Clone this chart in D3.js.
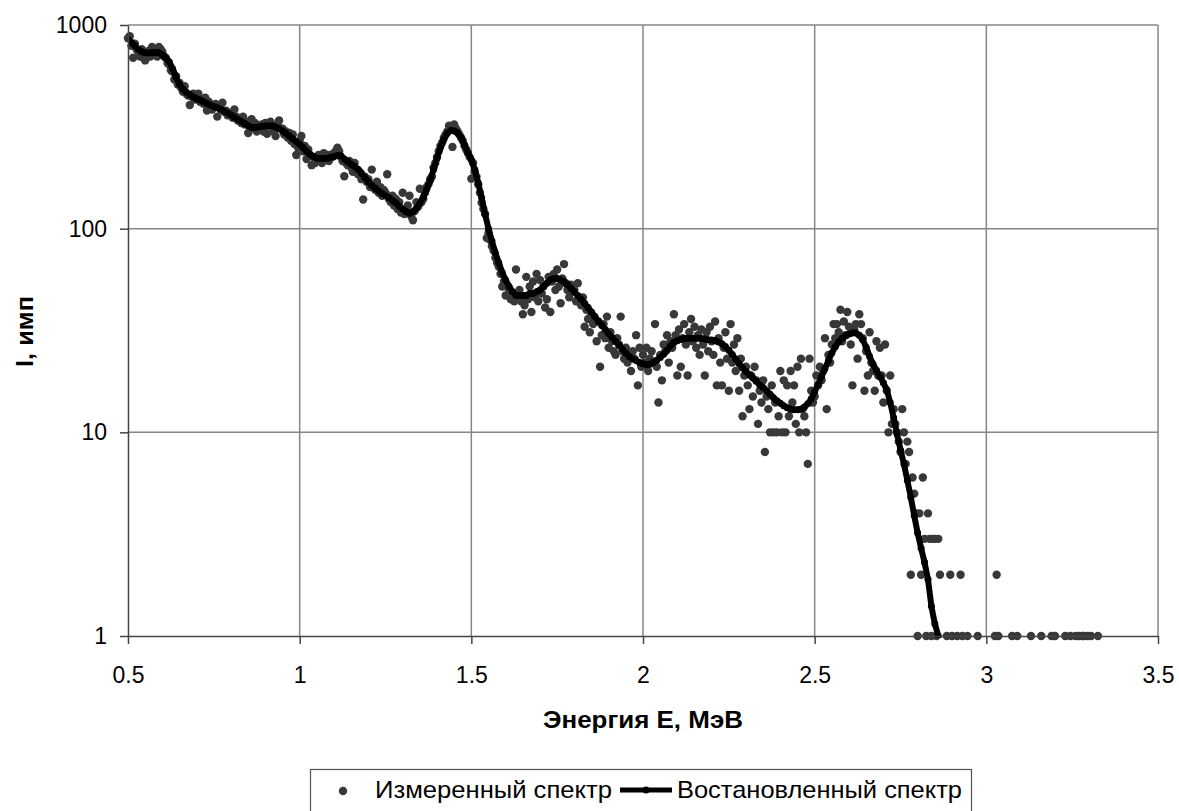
<!DOCTYPE html>
<html>
<head>
<meta charset="utf-8">
<script src="https://cdn.jsdelivr.net/npm/d3@7"></script>
<style>
    body { margin: 0; background: #fff; }
    text { font-family: Arial, "Liberation Sans", sans-serif; }
</style>
</head>
<body>
<svg id="chart"></svg>
<script>
// measured spectrum: counts per channel, channel energy = start + i * step (MeV)
const measuredStart = 0.5;
const measuredStep = 0.005;
const measuredCounts = [
    860, 880, 790, 690, 810, 760, 740, 700, 760, 690,   // 0.50
    670, 720, 745, 700, 780, 760, 740, 700, 780, 760,   // 0.55
    740, 700, 690, 650, 640, 600, 590, 540, 560, 510,   // 0.60
    520, 490, 470, 500, 460, 450, 405, 445, 460, 430,   // 0.65
    440, 460, 420, 430, 410, 440, 380, 420, 400, 385,   // 0.70
    400, 410, 355, 395, 385, 415, 375, 380, 360, 370,   // 0.75
    370, 350, 385, 355, 340, 350, 330, 355, 325, 335,   // 0.80
    295, 320, 345, 310, 330, 300, 320, 310, 325, 300,   // 0.85
    330, 292, 320, 335, 315, 300, 285, 325, 340, 310,   // 0.90
    310, 290, 300, 280, 295, 270, 290, 260, 230, 250,   // 0.95
    270, 285, 240, 255, 220, 245, 230, 205, 225, 210,   // 1.00
    215, 230, 225, 210, 235, 220, 230, 215, 230, 225,   // 1.05
    235, 240, 250, 240, 225, 215, 181, 210, 205, 215,   // 1.10
    200, 190, 210, 195, 185, 190, 175, 139, 180, 170,   // 1.15
    175, 160, 195, 165, 155, 170, 150, 160, 145, 155,   // 1.20
    150, 185, 140, 135, 145, 130, 140, 125, 135, 120,   // 1.25
    150, 118, 125, 130, 145, 115, 110, 122, 135, 128,   // 1.30
    157, 135, 140, 150, 160, 165, 175, 180, 200, 210,   // 1.35
    225, 240, 255, 265, 280, 290, 300, 320, 315, 252,   // 1.40
    325, 310, 300, 290, 280, 270, 255, 245, 235, 225,   // 1.45
    176, 210, 190, 180, 165, 150, 134, 125, 118, 90,    // 1.50
    95, 88, 82, 78, 72, 68, 65, 60, 52, 55,             // 1.55
    47, 52, 50, 45, 48, 44, 63, 46, 50, 44,             // 1.60
    38, 42, 58, 45, 52, 39, 55, 46, 60, 44,             // 1.65
    56, 48, 52, 41, 45, 58, 39, 55, 60, 50,             // 1.70
    63, 52, 43, 57, 67, 54, 50, 46, 53, 49,             // 1.75
    50, 44, 54, 45, 42, 46, 33, 40, 36, 31,             // 1.80
    38, 34, 36, 28, 35, 21, 30, 34, 29, 37,             // 1.85
    26, 31, 28, 25, 24, 29, 27, 37, 25, 23,             // 1.90
    26, 22, 24, 20, 25, 23, 30, 17, 26, 21,             // 1.95
    24, 22, 26, 20, 23, 25, 22, 34, 21, 14,             // 2.00
    24, 18, 27, 25, 30, 22, 28, 26, 38, 30,             // 2.05
    19, 32, 21, 29, 34, 27, 19, 31, 36, 28,             // 2.10
    33, 26, 30, 24, 32, 27, 19, 31, 25, 33,             // 2.15
    28, 24, 35, 17, 29, 22, 17, 26, 31, 23,             // 2.20
    16, 34, 22, 27, 20, 29, 16, 23, 12, 19,             // 2.25
    21, 17, 13, 19, 15, 21, 18, 11, 16, 14,             // 2.30
    18, 8, 15, 13, 10, 17, 10, 14, 10, 12,              // 2.35
    20, 10, 18, 10, 17, 12, 20, 14, 17, 11,             // 2.40
    21, 10, 23, 13, 12, 10, 7, 23, 16, 14,              // 2.45
    15, 19, 17, 21, 18, 20, 29, 13, 24, 22,             // 2.50
    27, 34, 29, 34, 31, 40, 28, 35, 30, 39,             // 2.55
    33, 27, 17, 32, 34, 23, 38, 34, 29, 16,             // 2.60
    25, 19, 31, 22, 20, 16, 28, 19, 26, 19,             // 2.65
    14, 27, 16, 10, 19, 11, 13, 11, 10, 9,              // 2.70
    8, 13, 10, 7, 9, 8, 2, 6, 5, 4,                     // 2.75
    1, 4, 2, 6, 3, 1, 4, 3, 1, 3,                       // 2.80
    3, 1, 3, 2, 0, 0, 0, 1, 0, 2,                       // 2.85
    1, 0, 0, 1, 0, 2, 1, 0, 0, 1,                       // 2.90
    0, 0, 0, 0, 0, 1, 0, 0, 0, 0,                       // 2.95
    0, 0, 0, 0, 0, 1, 2, 1, 0, 0,                       // 3.00
    0, 0, 0, 0, 0, 1, 0, 0, 1, 0,                       // 3.05
    0, 0, 0, 0, 0, 0, 1, 0, 0, 0,                       // 3.10
    0, 0, 1, 0, 0, 0, 0, 0, 1, 0,                       // 3.15
    1, 0, 0, 0, 0, 0, 1, 0, 0, 1,                       // 3.20
    0, 0, 1, 0, 1, 0, 1, 1, 0, 1,                       // 3.25
    0, 1, 0, 0, 0, 1                                    // 3.30
];

// reconstructed spectrum, energy = start + i * step (MeV)
const reconStart = 0.5;
const reconStep = 0.01;
const reconCounts = [
    850, 820, 790, 760, 740, 730, 728, 730, 733, 730,           // 0.5
    715, 690, 660, 610, 555, 510, 485, 468, 455, 443,           // 0.6
    435, 428, 420, 412, 405, 398, 392, 386, 378, 370,           // 0.7
    361, 352, 344, 336, 328, 320, 315, 314, 316, 318,           // 0.8
    319, 320, 320, 316, 310, 302, 294, 285, 276, 268,           // 0.9
    260, 250, 240, 232, 226, 222, 221, 221, 222, 224,           // 1.0
    226, 229, 228, 220, 213, 207, 202, 196, 187, 178,           // 1.1
    170, 163, 158, 153, 149, 145, 142, 138, 134, 129,           // 1.2
    125, 121, 119, 121, 126, 133, 143, 156, 172, 195,           // 1.3
    222, 250, 275, 294, 303, 302, 295, 280, 258, 236,           // 1.4
    218, 195, 168, 142, 118, 100, 87, 76, 68, 61,               // 1.5
    56, 52, 49, 47, 47, 47, 47, 48, 48, 49,                     // 1.6
    50, 52, 54, 56, 57, 57, 56, 55, 53, 51,                     // 1.7
    49, 47, 45, 43, 41, 39, 37, 35, 33.5, 32,                   // 1.8
    30.5, 29.2, 28, 26.8, 25.6, 24.5, 23.6, 23, 22.5, 22,       // 1.9
    21.7, 21.5, 21.6, 22, 22.6, 23.3, 24.2, 25.3, 26.6, 27.6,   // 2.0
    28.2, 28.6, 28.9, 29, 29, 29, 29, 28.9, 28.7, 28.5,         // 2.1
    28.4, 28.2, 27.8, 27.2, 26.4, 25.3, 24.1, 22.9, 21.7, 20.7, // 2.2
    19.9, 19.2, 18.5, 17.8, 17.1, 16.6, 16, 15.4, 14.8, 14.3,   // 2.3
    13.9, 13.5, 13.2, 13, 12.9, 12.9, 13, 13.3, 13.8, 14.6,     // 2.4
    15.8, 17.2, 18.8, 20.6, 22.5, 24.5, 26.3, 27.8, 29, 29.8,   // 2.5
    30.4, 30.7, 30.7, 30, 28.5, 26.2, 23.6, 21.6, 20.2, 18.8,   // 2.6
    17.5, 16.2, 14, 11.8, 9.8, 8.2, 7, 5.8, 4.8, 3.9,           // 2.7
    3.2, 2.7, 2.3, 1.9, 1.4, 1.15, 1.0                          // 2.8
];

const xTicks = [0.5, 1, 1.5, 2, 2.5, 3, 3.5];
const yTicks = [1, 10, 100, 1000];
const seriesNames = ['Измеренный спектр', 'Востановленный спектр'];

class SpectrumChart {
    constructor (config) {
        this.config = {
            parent: config.parent,
            width: config.width || 1179,
            height: config.height || 811,
            margin: config.margin || {top:25, right:21, bottom:175, left:128},
            xlabel: config.xlabel || '',
            ylabel: config.ylabel || '',
        };
        this.init();
    }

    init() {
        let self = this;

        self.svg = d3.select(self.config.parent)
            .attr('width', self.config.width)
            .attr('height', self.config.height);

        self.inner_width = self.config.width - self.config.margin.left - self.config.margin.right;
        self.inner_height = self.config.height - self.config.margin.top - self.config.margin.bottom;

        self.chart = self.svg.append('g')
            .attr('transform', `translate(${self.config.margin.left}, ${self.config.margin.top})`);

        self.xscale = d3.scaleLinear()
            .domain([0.5, 3.5])
            .range([0, self.inner_width]);

        self.yscale = d3.scaleLog()
            .domain([1, 1000])
            .range([self.inner_height, 0]);

        self.xaxis = d3.axisBottom(self.xscale)
            .tickValues(xTicks)
            .tickFormat(d3.format('~g'))
            .tickSize(8)
            .tickPadding(23)
            .tickSizeOuter(0);

        self.yaxis = d3.axisLeft(self.yscale)
            .tickValues(yTicks)
            .tickFormat(d3.format('d'))
            .tickSize(8)
            .tickPadding(13)
            .tickSizeOuter(0);

        self.chart.append('clipPath')
            .attr('id', 'plot-clip')
            .append('rect')
            .attr('width', self.inner_width)
            .attr('height', self.inner_height + 2);

        self.grid_group = self.chart.append('g');
        self.dots_group = self.chart.append('g');
        self.line_group = self.chart.append('g').attr('clip-path', 'url(#plot-clip)');

        self.xaxis_group = self.chart.append('g')
            .attr('transform', `translate(0, ${self.inner_height})`);
        self.yaxis_group = self.chart.append('g');

        self.svg.append('text')
            .style('font-size', '24px')
            .style('font-weight', 'bold')
            .attr('x', self.config.margin.left + self.inner_width / 2)
            .attr('y', 728)
            .attr('text-anchor', 'middle')
            .attr('textLength', 200)
            .attr('lengthAdjust', 'spacingAndGlyphs')
            .text(self.config.xlabel);

        self.svg.append('text')
            .style('font-size', '24px')
            .style('font-weight', 'bold')
            .attr('transform', `translate(33, ${self.config.margin.top + self.inner_height / 2 + 1}) rotate(-90)`)
            .attr('text-anchor', 'middle')
            .attr('textLength', 71)
            .attr('lengthAdjust', 'spacingAndGlyphs')
            .text(self.config.ylabel);
    }

    update() {
        let self = this;

        self.measured = measuredCounts
            .map((c, i) => ({ energy: measuredStart + i * measuredStep, count: c }))
            .filter(d => d.count > 0);

        self.recon = reconCounts
            .map((c, i) => ({ energy: reconStart + i * reconStep, count: c }));

        self.line = d3.line()
            .x(d => self.xscale(d.energy))
            .y(d => self.yscale(d.count));

        self.render();
    }

    render() {
        let self = this;

        const grid_color = '#868686';
        self.grid_group.selectAll('.vgrid')
            .data(xTicks.slice(1))
            .join('line')
            .attr('class', 'vgrid')
            .attr('x1', d => self.xscale(d)).attr('x2', d => self.xscale(d))
            .attr('y1', 0).attr('y2', self.inner_height)
            .attr('stroke', grid_color)
            .attr('stroke-width', 1.5);

        self.grid_group.selectAll('.hgrid')
            .data(yTicks.slice(1))
            .join('line')
            .attr('class', 'hgrid')
            .attr('x1', 0).attr('x2', self.inner_width)
            .attr('y1', d => self.yscale(d)).attr('y2', d => self.yscale(d))
            .attr('stroke', grid_color)
            .attr('stroke-width', 1.5);

        const dot_color = '#383838';
        self.dots_group.selectAll('circle')
            .data(self.measured)
            .join('circle')
            .attr('cx', d => self.xscale(d.energy))
            .attr('cy', d => self.yscale(d.count))
            .attr('r', 4.2)
            .attr('fill', dot_color);

        self.line_group.append('path')
            .attr('d', self.line(self.recon))
            .attr('stroke', '#000')
            .attr('stroke-width', 6)
            .attr('stroke-linejoin', 'round')
            .attr('fill', 'none');

        self.line_group.selectAll('circle')
            .data(self.recon)
            .join('circle')
            .attr('cx', self.line.x())
            .attr('cy', self.line.y())
            .attr('r', 3.5)
            .attr('fill', '#000');

        const axis_color = '#444';
        [self.xaxis_group.call(self.xaxis), self.yaxis_group.call(self.yaxis)].forEach(g => {
            g.select('.domain').attr('stroke', axis_color).attr('stroke-width', 1.5);
            g.selectAll('.tick line').attr('stroke', axis_color).attr('stroke-width', 1.5);
            g.selectAll('.tick text')
                .attr('fill', '#000')
                .style('font-size', '23px')
                .style('font-family', 'Arial, "Liberation Sans", sans-serif');
        });

        // legend
        const legend = self.svg.append('g');
        legend.append('rect')
            .attr('x', 310.5).attr('y', 769.5)
            .attr('width', 661).attr('height', 60)
            .attr('fill', '#fff')
            .attr('stroke', '#555')
            .attr('stroke-width', 1.2);

        legend.append('circle')
            .attr('cx', 343).attr('cy', 791)
            .attr('r', 4.2)
            .attr('fill', dot_color);
        legend.append('text')
            .attr('x', 375).attr('y', 798)
            .style('font-size', '24px')
            .attr('textLength', 237)
            .attr('lengthAdjust', 'spacingAndGlyphs')
            .text(seriesNames[0]);

        legend.append('line')
            .attr('x1', 620).attr('x2', 672)
            .attr('y1', 790).attr('y2', 790)
            .attr('stroke', '#000')
            .attr('stroke-width', 5);
        legend.append('circle')
            .attr('cx', 646).attr('cy', 790)
            .attr('r', 3.5)
            .attr('fill', '#000');
        legend.append('text')
            .attr('x', 677).attr('y', 798)
            .style('font-size', '24px')
            .attr('textLength', 285)
            .attr('lengthAdjust', 'spacingAndGlyphs')
            .text(seriesNames[1]);
    }
}

const chart = new SpectrumChart({
    parent: '#chart',
    width: 1179,
    height: 811,
    margin: {top:25, right:21, bottom:175, left:128},
    xlabel: 'Энергия Е, МэВ',
    ylabel: 'I, имп',
});
chart.update();
</script>
</body>
</html>
